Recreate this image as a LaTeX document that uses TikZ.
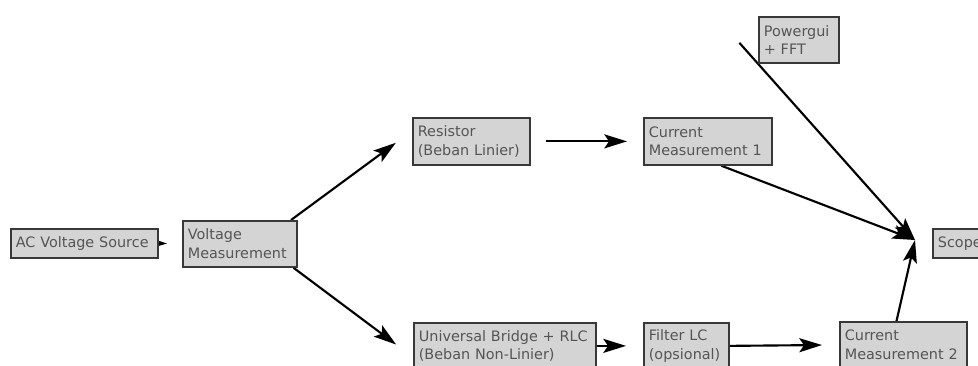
\documentclass[tikz,border=0pt]{standalone}
\usepackage{fontspec}
\usepackage{xcolor}
\newfontfamily\blokfont{DejaVu Sans}
\usetikzlibrary{arrows.meta, backgrounds}
\definecolor{blokfill}{HTML}{D4D4D4}
\definecolor{blokdraw}{HTML}{383838}
\definecolor{bloktext}{HTML}{555555}

\begin{document}
\begin{tikzpicture}[x=0.75pt, y=-0.75pt]
            \useasboundingbox (0,0) rectangle (978,365);
            \begin{scope}[every node/.style={rectangle, draw=blokdraw, fill=blokfill, text=bloktext,
                          line width=1.3pt, anchor=north west, align=left, inner xsep=3.75pt, inner ysep=0pt,
                          font=\blokfont\fontsize{10.8}{13.9}\selectfont}]
                \node[text width=102.75pt, minimum height=21.75pt] (ac) at (10,228) {AC Voltage Source};
                \node[text width=78pt, minimum height=34.5pt] (vm) at (182,220) {Voltage\\Measurement};
                \node[text width=80.25pt, minimum height=35.25pt] (res) at (412,117) {Resistor\\(Beban Linier)};
                \node[text width=88.5pt, minimum height=35.25pt] (cm1) at (643,117) {Current\\Measurement 1};
                \node[text width=52.5pt, minimum height=34.5pt] (pg) at (758,16) {Powergui\\+ FFT};
                \node[text width=33.75pt, minimum height=21.75pt] (scope) at (932,228) {Scope};
                \node[text width=129pt, minimum height=34.5pt] (ub) at (413,322) {Universal Bridge + RLC\\(Beban Non-Linier)};
                \node[text width=56.25pt, minimum height=34.5pt] (flc) at (643,322) {Filter LC\\(opsional)};
                \node[text width=87.75pt, minimum height=34.5pt] (cm2) at (839,321) {Current\\Measurement 2};
            \end{scope}

            \begin{scope}[on background layer,
                          >={Stealth[length=17pt, width=10.5pt, inset=3.5pt]},
                          every edge/.style={draw=black, line width=1.6pt}]
                \coordinate (hub) at (915,240);
                \path[->] (ac.east) edge[shorten >=11.25pt] (vm.west);
                \path[->] (vm.25) edge[shorten >=15pt] (res.170);
                \path[->] (vm.-24) edge[shorten >=15.75pt] (ub.187);
                \path[->] (res.east) edge[shorten <=11.25pt, shorten >=12pt] (cm1.west);
                \path[->] (ub.east) edge[shorten >=12.75pt] (flc.west);
                \path[->] (flc.east) edge[shorten >=12.75pt] (cm2.west);
                \path[->] (cm1.-61) edge (hub);
                \path[->] (pg.south west) edge[shorten <=-21pt] (hub);
                \path[->] (cm2.106) edge (hub);
            \end{scope}
\end{tikzpicture}
\end{document}
